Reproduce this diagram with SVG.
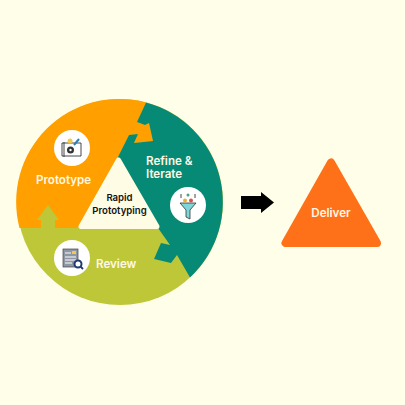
<svg xmlns="http://www.w3.org/2000/svg" width="405" height="405" viewBox="0 0 405 405">
<style>
.t{font-family:Inter,"Open Sans","Liberation Sans",sans-serif;font-weight:600}
.w{fill:#FFF8E4;font-size:11.6px}
.k{fill:#111;font-size:9.6px;text-anchor:middle;font-weight:600}
.d{fill:none;stroke:#333;stroke-width:.9}
</style>
<rect width="405" height="405" fill="#FFFEE8"/>
<g id="connectors">
<circle id="green-base" cx="120" cy="202" r="103" fill="#BEC738"/>
<path id="orange-segment" fill="#FF9F00" d="M146,102.500A103,103 0 0 0 19.500,228H41V220H37L48,205L59,220H55V228H78L118,157L129,135L138,134L134,143L153,141L149,123L145,125L137,122Z"/>
<path id="teal-segment" fill="#078A75" d="M146,102.500A103,103 0 0 1 190,277.500L177,255L171,263L154,259L161,243L170,245L158,228L118,157L129,135L138,134L134,143L153,141L149,123L145,125L137,122Z"/>
<path id="next-arrow" fill="#000" d="M241,196H261V192L274,202.500L261,213V209H241Z"/>
</g>
<g id="center-node">
<path fill="#FFFCE6" stroke="#FFFCE6" stroke-width="5" stroke-linejoin="round" d="M118.500,160L81,226.500H157Z"/>
<text class="t k" x="119.500" y="200.500">Rapid</text>
<text class="t k" x="119.500" y="214">Prototyping</text>
</g>
<g id="prototype-node">
<circle cx="72" cy="148" r="18" fill="#fff"/>
<path class="d" fill="#F4F4F4" d="M62,143H81V156H62Z"/>
<path class="d" d="M64,142V157"/>
<circle cx="70.500" cy="150" r="3.500" fill="#333"/>
<circle cx="70.500" cy="150" r="1.200" fill="#fff"/>
<circle cx="70" cy="141" r="2.500" fill="#F2C94C"/>
<path stroke="#2F7FB5" stroke-width="2" d="M74,145L79,139"/>
<text class="t w" x="36" y="184">Prototype</text>
</g>
<g id="refine-node">
<circle cx="188" cy="205" r="18" fill="#fff"/>
<path fill="#7FD6D8" stroke="#333" stroke-width=".8" d="M180,203H196L190,210V219L186,217V210Z"/>
<circle cx="185" cy="200.500" r="2" fill="#E9B13A"/>
<circle cx="191" cy="200.500" r="2" fill="#D9534F"/>
<circle cx="188" cy="195" r="1.500" fill="#4AA37F"/>
<path class="d" d="M181,194V198M195,194V198"/>
<text class="t w" x="146" y="164.500">Refine &amp;</text>
<text class="t w" x="146" y="178">Iterate</text>
</g>
<g id="review-node">
<circle cx="72" cy="258" r="18" fill="#fff"/>
<rect x="63" y="249" width="15" height="18" fill="#8E97A3" stroke="#444" stroke-width=".7"/>
<path d="M65,253H71M65,257H76M65,260H76M65,263H72" stroke="#fff" stroke-width="1"/>
<rect x="72" y="251" width="4" height="3" fill="#F2C94C"/>
<circle cx="78" cy="264" r="3.500" fill="#fff" stroke="#1F3B73" stroke-width="2"/>
<path stroke="#1F3B73" stroke-width="1.800" d="M80.500,266.500L83,269"/>
<text class="t w" x="96" y="267.500">Review</text>
</g>
<g id="deliver-node">
<path fill="#FF7119" stroke="#FF7119" stroke-width="8" stroke-linejoin="round" d="M331,162.500L285.500,243H377Z"/>
<text class="t w" x="331" y="217" text-anchor="middle">Deliver</text>
</g>
</svg>
